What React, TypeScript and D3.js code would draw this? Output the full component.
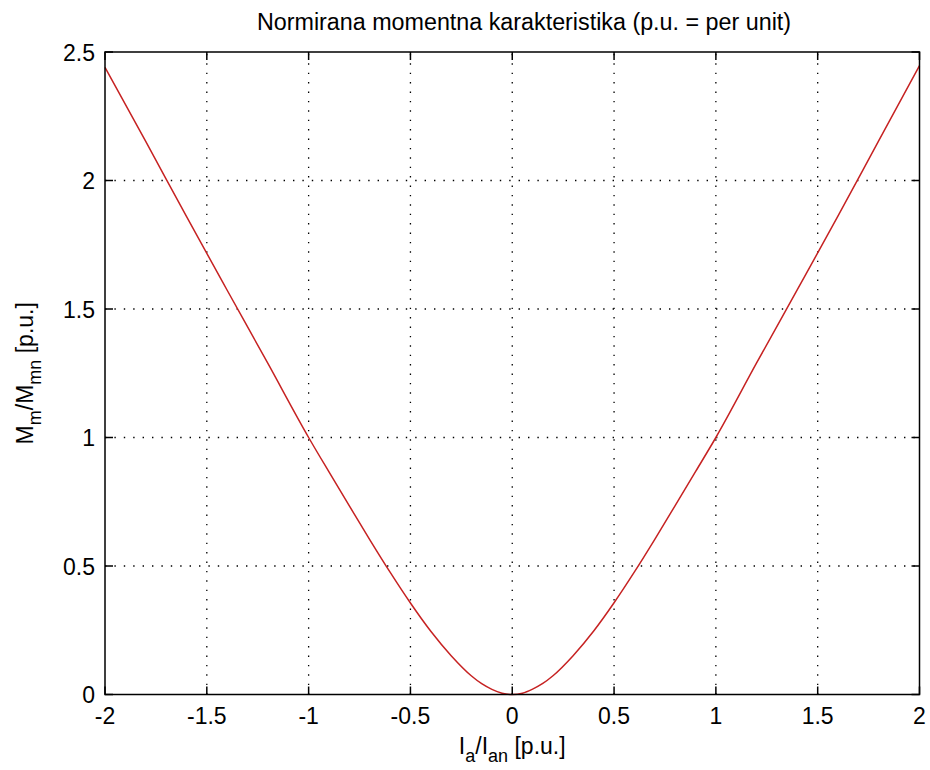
import React from "react";
import * as d3 from "d3";

// Armature current (p.u.) and torque (p.u.)
const iaValues = [
  -2, -1.8, -1.6, -1.4, -1.2, -1, -0.9, -0.8, -0.7, -0.6, -0.5, -0.4, -0.3, -0.2, -0.15, -0.1, -0.05, 0,
  0.05, 0.1, 0.15, 0.2, 0.3, 0.4, 0.5, 0.6, 0.7, 0.8, 0.9, 1, 1.2, 1.4, 1.6, 1.8, 2,
];
const mValues = [
  2.44, 2.152, 1.86, 1.573, 1.288, 1.0, 0.866, 0.734, 0.603, 0.476, 0.356, 0.246, 0.151, 0.072, 0.042, 0.02, 0.005, 0,
  0.005, 0.021, 0.043, 0.073, 0.152, 0.247, 0.357, 0.477, 0.604, 0.735, 0.867, 1.0, 1.29, 1.575, 1.862, 2.155, 2.447,
];
const xTicks = [-2, -1.5, -1, -0.5, 0, 0.5, 1, 1.5, 2];
const yTicks = [0, 0.5, 1, 1.5, 2, 2.5];
const titleText = "Normirana momentna karakteristika (p.u. = per unit)";

const W = 930;
const H = 770;
const M = { left: 105, right: 10.5, top: 52, bottom: 75.5 };
const FONT = "'Liberation Sans', Arial, Helvetica, sans-serif";

export default function App() {
  const x = d3.scaleLinear().domain([-2, 2]).range([M.left, W - M.right]);
  const y = d3.scaleLinear().domain([0, 2.5]).range([H - M.bottom, M.top]);
  const pts: [number, number][] = iaValues.map((v, i) => [v, mValues[i]]);
  const line = d3
    .line<[number, number]>()
    .x((d) => x(d[0]))
    .y((d) => y(d[1]))
    .curve(d3.curveMonotoneX);
  const x0 = x(-2), x1 = x(2), y0 = y(0), y1 = y(2.5);
  const tl = 8;
  const fmt = (v: number) => String(v);
  return (
    <svg
      width={W}
      height={H}
      style={{ position: "absolute", left: 0, top: 0, background: "#fff" }}
      fontFamily={FONT}
    >
      <rect x={0} y={0} width={W} height={H} fill="#fff" />
      {/* grid */}
      {xTicks.slice(1, -1).map((t) => (
        <line key={"gx" + t} x1={x(t)} x2={x(t)} y1={y0} y2={y1} stroke="#000" strokeWidth={1.3} strokeDasharray="1.4,8" />
      ))}
      {yTicks.slice(1, -1).map((t) => (
        <line key={"gy" + t} x1={x0} x2={x1} y1={y(t)} y2={y(t)} stroke="#000" strokeWidth={1.3} strokeDasharray="1.4,8" />
      ))}
      {/* curve */}
      <path d={line(pts) || ""} fill="none" stroke="#c62222" strokeWidth={1.5} />
      {/* box */}
      <rect x={x0} y={y1} width={x1 - x0} height={y0 - y1} fill="none" stroke="#000" strokeWidth={1.5} />
      {/* ticks */}
      {xTicks.map((t) => (
        <g key={"tx" + t}>
          <line x1={x(t)} x2={x(t)} y1={y0} y2={y0 - tl} stroke="#000" strokeWidth={1.5} />
          <line x1={x(t)} x2={x(t)} y1={y1} y2={y1 + tl} stroke="#000" strokeWidth={1.5} />
          <text x={x(t)} y={724} fontSize={23} textAnchor="middle" fill="#000">
            {fmt(t)}
          </text>
        </g>
      ))}
      {yTicks.map((t) => (
        <g key={"ty" + t}>
          <line x1={x0} x2={x0 + tl} y1={y(t)} y2={y(t)} stroke="#000" strokeWidth={1.5} />
          <line x1={x1} x2={x1 - tl} y1={y(t)} y2={y(t)} stroke="#000" strokeWidth={1.5} />
          <text x={95} y={y(t) + 8.5} fontSize={23} textAnchor="end" fill="#000">
            {fmt(t)}
          </text>
        </g>
      ))}
      {/* title */}
      <text x={524} y={30} fontSize={23.3} textAnchor="middle" fill="#000">
        {titleText}
      </text>
      {/* x label */}
      <text x={(x0 + x1) / 2} y={754} fontSize={23} textAnchor="middle" fill="#000">
        <tspan>I</tspan>
        <tspan fontSize={18} dy={8}>a</tspan>
        <tspan dy={-8}>/I</tspan>
        <tspan fontSize={18} dy={8}>an</tspan>
        <tspan dy={-8}> [p.u.]</tspan>
      </text>
      {/* y label */}
      <text
        transform={`translate(33,${(y0 + y1) / 2}) rotate(-90)`}
        fontSize={23}
        textAnchor="middle"
        fill="#000"
      >
        <tspan>M</tspan>
        <tspan fontSize={18} dy={8}>m</tspan>
        <tspan dy={-8}>/M</tspan>
        <tspan fontSize={18} dy={8}>mn</tspan>
        <tspan dy={-8}> [p.u.]</tspan>
      </text>
    </svg>
  );
}
